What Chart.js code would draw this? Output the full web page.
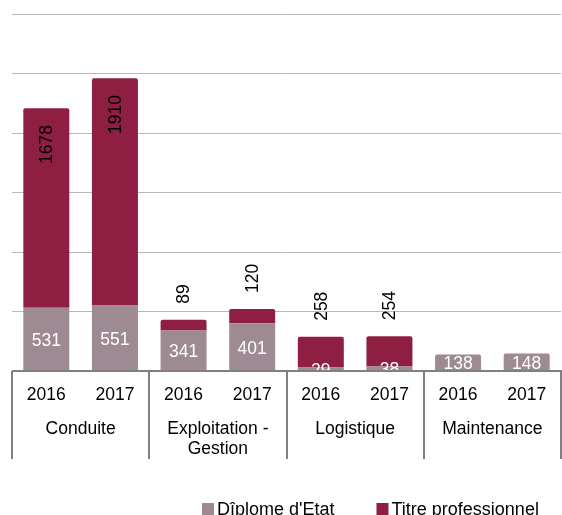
<!DOCTYPE html>
<html lang="fr">
<head>
<meta charset="utf-8">
<title>Diplômes délivrés par filière</title>
<script src="https://cdn.jsdelivr.net/npm/chart.js@4.4.1/dist/chart.umd.min.js"></script>
<style>
	html, body { margin: 0; padding: 0; background: #ffffff; }
	#wrap { width: 562px; height: 515px; }
</style>
</head>
<body>
<div id="wrap"><canvas id="chart" width="562" height="515"></canvas></div>
<script>
// filières (grouped two years each) and values per series
const groups = [['Conduite'], ['Exploitation -', 'Gestion'], ['Logistique'], ['Maintenance']];
const years = ['2016', '2017'];
const diplomeEtat = [531, 551, 341, 401, 29, 38, 138, 148];
const titrePro = [1678, 1910, 89, 120, 258, 254, 0, 0];

const FONT = '"Liberation Sans", Arial, sans-serif';
const COL_DIPLOME = '#9d8a92';
const COL_TITRE = '#8e1f42';
const AXIS_COL = '#808080';

const labels = [];
groups.forEach(g => years.forEach(y => labels.push(y + ' ' + g.join(' '))));

// data labels, axis line, two-level category axis and legend
const decorations = {
	id: 'decorations',
	afterDatasetsDraw(chart) {
		const { ctx, chartArea } = chart;
		ctx.save();
		ctx.beginPath();
		ctx.rect(chartArea.left, chartArea.top - 80, chartArea.right - chartArea.left, chartArea.bottom - chartArea.top + 80);
		ctx.clip();
		ctx.font = '17.5px ' + FONT;

		// white values centred in the lower segment
		const m0 = chart.getDatasetMeta(0);
		m0.data.forEach((bar, i) => {
			ctx.fillStyle = '#ffffff';
			ctx.textAlign = 'center';
			ctx.textBaseline = 'middle';
			ctx.fillText(String(diplomeEtat[i]), bar.x, (bar.y + bar.base) / 2 + 2);
		});

		// rotated values for the upper segment
		const m1 = chart.getDatasetMeta(1);
		m1.data.forEach((bar, i) => {
			const v = titrePro[i];
			if (!v) return;
			const txt = String(v);
			const w = ctx.measureText(txt).width;
			const h = bar.base - bar.y;
			ctx.save();
			ctx.fillStyle = '#000000';
			ctx.textBaseline = 'middle';
			if (h > w + 36) {
				ctx.translate(bar.x, bar.y + 17);
				ctx.rotate(-Math.PI / 2);
				ctx.textAlign = 'right';
			} else {
				ctx.translate(bar.x, bar.y - 16);
				ctx.rotate(-Math.PI / 2);
				ctx.textAlign = 'left';
			}
			ctx.fillText(txt, 0, 1);
			ctx.restore();
		});
		ctx.restore();
	},
	afterDraw(chart) {
		const { ctx, chartArea, scales } = chart;
		const x = scales.x;
		const bottom = chartArea.bottom;
		ctx.save();

		// axis line
		ctx.strokeStyle = AXIS_COL;
		ctx.lineWidth = 2;
		ctx.beginPath();
		ctx.moveTo(chartArea.left, bottom);
		ctx.lineTo(chartArea.right + 1, bottom);
		ctx.stroke();

		// group separators
		const step = x.getPixelForValue(1) - x.getPixelForValue(0);
		const bounds = [];
		for (let g = 0; g <= groups.length; g++) {
			bounds.push(x.getPixelForValue(g * years.length) - step / 2);
		}
		ctx.beginPath();
		bounds.forEach(bx => {
			const px = Math.round(bx);
			ctx.moveTo(px, bottom);
			ctx.lineTo(px, bottom + 88);
		});
		ctx.stroke();

		// years and group names
		ctx.fillStyle = '#000000';
		ctx.font = '17.5px ' + FONT;
		ctx.textAlign = 'center';
		ctx.textBaseline = 'middle';
		labels.forEach((_, i) => {
			ctx.fillText(years[i % years.length], x.getPixelForValue(i), bottom + 24);
		});
		groups.forEach((lines, g) => {
			const cx = (bounds[g] + bounds[g + 1]) / 2;
			lines.forEach((ln, k) => ctx.fillText(ln, cx, bottom + 58 + k * 20));
		});

		// legend
		ctx.font = '18px ' + FONT;
		ctx.textAlign = 'left';
		let lx = 202;
		const ly = 509;
		chart.data.datasets.forEach(ds => {
			ctx.fillStyle = ds.backgroundColor;
			ctx.fillRect(lx, ly - 6, 12, 12);
			ctx.fillStyle = '#000000';
			ctx.fillText(ds.label, lx + 15, ly + 1);
			lx += 15 + ctx.measureText(ds.label).width + 42;
		});
		ctx.restore();
	}
};

new Chart(document.getElementById('chart'), {
	type: 'bar',
	data: {
		labels: labels,
		datasets: [
			{
				label: "Dîplome d'Etat",
				data: diplomeEtat,
				backgroundColor: COL_DIPLOME,
				borderRadius: ctx => (titrePro[ctx.dataIndex] ? 0 : { topLeft: 2, topRight: 2 }),
				borderSkipped: 'bottom'
			},
			{
				label: 'Titre professionnel',
				data: titrePro,
				backgroundColor: COL_TITRE,
				borderRadius: { topLeft: 2, topRight: 2 },
				borderSkipped: 'bottom'
			}
		]
	},
	options: {
		responsive: false,
		animation: false,
		devicePixelRatio: 1,
		layout: { padding: { left: 12, right: 1, top: 14, bottom: 144 } },
		datasets: { bar: { categoryPercentage: 1, barPercentage: 0.67 } },
		scales: {
			x: {
				stacked: true,
				grid: { display: false },
				border: { display: false },
				ticks: { display: false },
				afterFit: s => { s.height = 0; }
			},
			y: {
				stacked: true,
				min: 0,
				max: 3000,
				ticks: { display: false, stepSize: 500 },
				grid: { color: '#b8b8b8', lineWidth: 1, drawTicks: false },
				border: { display: false },
				afterFit: s => { s.width = 0; }
			}
		},
		plugins: {
			legend: { display: false },
			tooltip: { enabled: false }
		}
	},
	plugins: [decorations]
});
</script>
</body>
</html>
